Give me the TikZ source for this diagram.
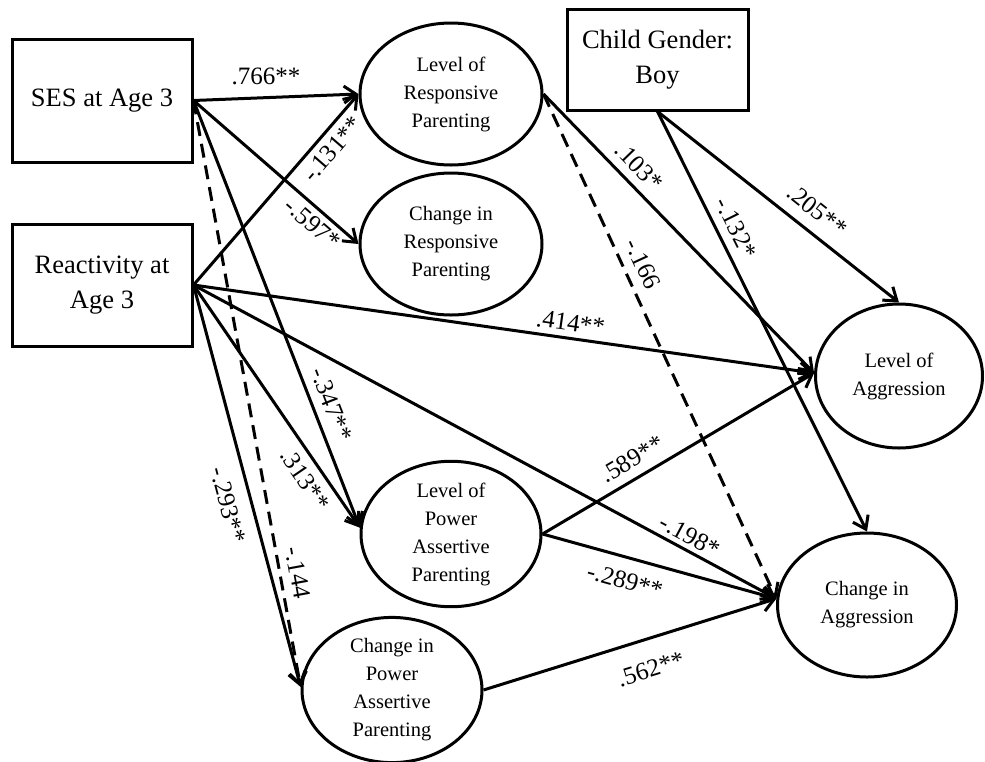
\documentclass[tikz,border=0pt]{standalone}
\usepackage{fontspec}
\setmainfont{Liberation Serif}
\usetikzlibrary{shapes.geometric,arrows.meta}

\begin{document}
\begin{tikzpicture}[x=1pt,y=-1pt,
  box/.style={draw, rectangle, line width=3pt, inner sep=0pt, align=center,
    font=\fontsize{26.5}{35}\selectfont},
  latent/.style={draw, ellipse, line width=3pt, inner sep=0pt, align=center,
    font=\fontsize{20.5}{28}\selectfont},
  link/.style={line width=3pt, -{Straight Barb[length=12pt,width=17pt]}},
  dashlink/.style={link, dash pattern=on 14pt off 8pt},
  coef/.style={font=\fontsize{25}{30}\selectfont, inner sep=0pt}
]
\useasboundingbox (0,0) rectangle (985,761);

% observed variables
\node[box, minimum width=180pt, minimum height=123pt] (SES) at (102,100.5) {SES at Age 3};
\node[box, minimum width=180pt, minimum height=122pt] (React) at (102,285) {Reactivity at\\Age 3};
\node[box, minimum width=181pt, minimum height=101pt] (Child) at (657.5,59.5) {Child Gender:\\Boy};

% parenting and aggression factors
\node[latent, minimum width=182pt, minimum height=142pt] (LR) at (451,94) {Level of\\Responsive\\Parenting};
\node[latent, minimum width=182pt, minimum height=142pt] (CR) at (451,244) {Change in\\Responsive\\Parenting};
\node[latent, minimum width=180pt, minimum height=142pt] (LP) at (451,534) {Level of\\Power\\Assertive\\Parenting};
\node[latent, minimum width=180pt, minimum height=142pt] (CP) at (392,690) {Change in\\Power\\Assertive\\Parenting};
\node[latent, minimum width=167pt, minimum height=144pt] (LA) at (899,376) {Level of\\Aggression};
\node[latent, minimum width=179pt, minimum height=144pt] (CA) at (867,605) {Change in\\Aggression};

% paths from SES
\draw[link] (SES.east) -- node[coef, pos=0.44, yshift=21pt] {.766**} (LR.west);
\draw[link] (SES.east) -- node[coef, pos=0.78, sloped, yshift=-14.7pt] {-.597*} (CR.west);
\draw[link] (SES.east) -- node[coef, pos=0.727, sloped, yshift=18.4pt] {-.347**} (LP.176);
\draw[dashlink] (SES.east) -- node[coef, pos=0.811, sloped, yshift=17.8pt] {-.144} (CP.178);

% paths from reactivity
\draw[link] (React.east) -- node[coef, pos=0.766, sloped, yshift=-16.3pt] {-.131**} (LR.west);
\draw[link] (React.east) -- node[coef, pos=0.604, sloped, yshift=15.5pt] {.414**} (LA.178);
\draw[link] (React.east) -- node[coef, pos=0.84, sloped, yshift=14.5pt] {-.198*} (CA.176);
\draw[link] (React.east) -- node[coef, pos=0.76, sloped, yshift=-17.8pt] {.313**} (LP.176);
\draw[link] (React.east) -- node[coef, pos=0.533, sloped, yshift=-23.2pt] {-.293**} (CP.178);

% paths from responsive parenting
\draw[link] (LR.east) -- node[coef, pos=0.305, sloped, yshift=18.3pt] {.103*} (LA.178);
\draw[dashlink] (LR.east) -- node[coef, pos=0.353, sloped, yshift=19.2pt] {-.166} (CA.176);

% paths from child gender
\draw[link] (Child.south) -- node[coef, pos=0.606, sloped, yshift=21.5pt] {.205**} (LA.north);
\draw[link] (Child.south) -- node[coef, pos=0.297, sloped, yshift=18.4pt] {-.132*} (CA.north);

% paths from power assertive parenting
\draw[link] (LP.east) -- node[coef, pos=0.365, sloped, yshift=18.8pt] {.589**} (LA.178);
\draw[link] (LP.east) -- node[coef, pos=0.379, sloped, yshift=-22.9pt] {-.289**} (CA.176);
\draw[link] (CP.east) -- node[coef, pos=0.541, sloped, yshift=-29.8pt] {.562**} (CA.176);
\end{tikzpicture}
\end{document}
